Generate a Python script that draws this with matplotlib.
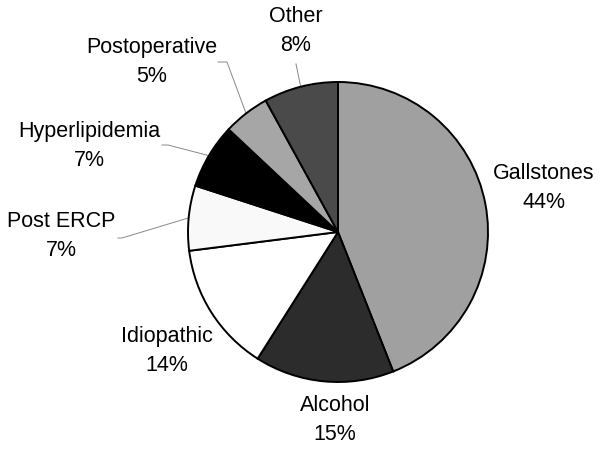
import numpy as np
import matplotlib
matplotlib.use("Agg")
import matplotlib.pyplot as plt

causes = ["Gallstones", "Alcohol", "Idiopathic", "Post ERCP",
          "Hyperlipidemia", "Postoperative", "Other"]
shares = [44, 15, 14, 7, 7, 5, 8]
shades = ["#a0a0a0", "#2c2c2c", "#ffffff", "#f9f9f9",
          "#000000", "#a6a6a6", "#4a4a4a"]

# label centres in pixel coords (y from top)
label_pos = [(544, 188), (335, 420), (167, 351), (61, 236),
             (89, 146), (152, 62), (296, 31)]
# leader line: start point and elbow (None = no leader)
leaders = [None, None, None,
           [(118, 238), (122, 238)],
           [(162, 145), (168, 145)],
           [(218, 62), (227, 62)],
           [(296, 64), (296, 64)]]

plt.rcParams['font.family'] = ['Liberation Sans', 'DejaVu Sans']

W, H = 602, 450
fig = plt.figure(figsize=(W / 100, H / 100), dpi=100)
ax = fig.add_axes([0, 0, 1, 1])
cx, cy, r = 338, H - 232, 150

wedges, _ = ax.pie(shares, colors=shades, startangle=90, counterclock=False,
                   center=(cx, cy), radius=r,
                   wedgeprops=dict(edgecolor='black', linewidth=1.4))
ax.set_xlim(0, W)
ax.set_ylim(0, H)
ax.set_aspect('equal')
ax.axis('off')

for w, name, pct, pos, ld in zip(wedges, causes, shares, label_pos, leaders):
    ax.text(pos[0], H - pos[1], f"{name}\n{pct}%", ha='center', va='center',
            fontsize=15.5, linespacing=1.55, color='black')
    if ld is not None:
        mid = np.deg2rad((w.theta1 + w.theta2) / 2)
        ex, ey = cx + r * np.cos(mid), cy + r * np.sin(mid)
        xs = [ld[0][0], ld[1][0], ex]
        ys = [H - ld[0][1], H - ld[1][1], ey]
        ax.plot(xs, ys, color='#888888', lw=0.7, zorder=0)

fig.savefig("out.png", dpi=100)
